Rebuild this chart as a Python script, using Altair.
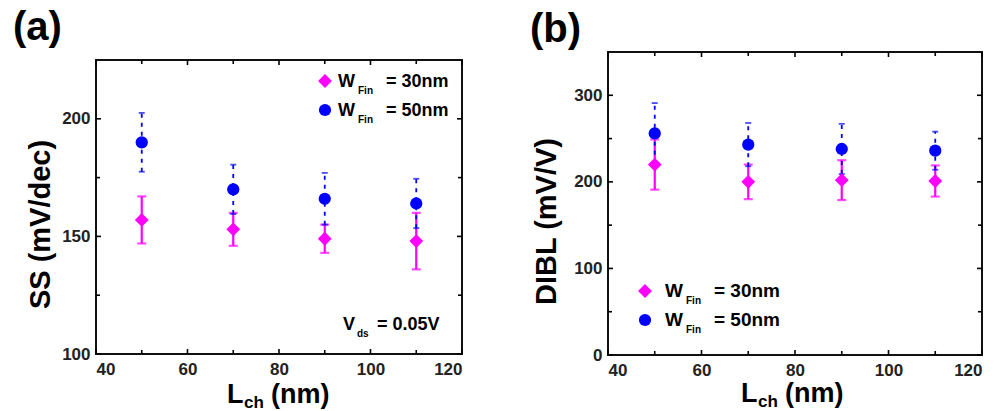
import altair as alt
import pandas as pd

# ---------------- data ----------------
L_ch = [50, 70, 90, 110]

ss_30 = [157, 153, 149, 148]
ss_30_err = [10, 7, 6, 12]
ss_50 = [190, 170, 166, 164]
ss_50_err = [12.5, 10.5, 11, 10.5]

dibl_30 = [220, 200, 202, 201]
dibl_30_err = [29, 20, 23, 18]
dibl_50 = [256, 243, 238, 236]
dibl_50_err = [35, 25, 29, 22]

x_major = [40, 60, 80, 100, 120]
x_minor = [50, 70, 90, 110]
ss_major = [100, 150, 200]
ss_minor = [125, 175]
dibl_major = [0, 100, 200, 300]
dibl_minor = [50, 150, 250]

series_labels = ["= 30nm", "= 50nm"]

FONT = "Liberation Sans"
PINK = "#ff00ff"
BLUE = "#0000ff"
one = pd.DataFrame({"k": [0]})


def txt(s, x, y, size, align="left", baseline="alphabetic"):
    return alt.Chart(one).mark_text(
        text=s, font=FONT, fontSize=size, fontWeight="bold",
        align=align, baseline=baseline, color="black"
    ).encode(x=alt.value(x), y=alt.value(y))


def sym(shape, color, size, x, y):
    return alt.Chart(one).mark_point(
        shape=shape, filled=True, size=size, color=color, opacity=1, strokeWidth=0
    ).encode(x=alt.value(x), y=alt.value(y))


def panel(v30, e30, v50, e50, ydom, ymaj, ymin, ytitle, W, H, top,
          title_x, title_y, label, label_xy, xt_xy, leg, vds=None):
    GH = H + top          # group height; frame spans [top, GH]
    xs = alt.Scale(domain=[40, 120], nice=False, zero=False)
    ys = alt.Scale(domain=ydom, nice=False, zero=False, range=[GH, top])
    xaxis = alt.Axis(values=x_major, format="d")
    yaxis = alt.Axis(values=ymaj, format="d", title=ytitle, titleX=title_x,
                     titleY=title_y + top, titleAngle=270, titleAlign="center",
                     titleBaseline="alphabetic")

    def X(f):
        return alt.X(f"{f}:Q", scale=xs, axis=xaxis, title=None)

    def Y(f):
        return alt.Y(f"{f}:Q", scale=ys, axis=yaxis, title=ytitle)

    d30 = pd.DataFrame({"L": L_ch, "val": v30,
                        "lo": [a - b for a, b in zip(v30, e30)],
                        "hi": [a + b for a, b in zip(v30, e30)]})
    d50 = pd.DataFrame({"L": L_ch, "val": v50,
                        "lo": [a - b for a, b in zip(v50, e50)],
                        "hi": [a + b for a, b in zip(v50, e50)]})

    layers = []
    # frame
    layers.append(alt.Chart(one).mark_rect(fill="transparent", stroke="#111", strokeWidth=2).encode(
        x=alt.value(0), x2=alt.value(W), y=alt.value(top), y2=alt.value(GH)))
    # error bars
    layers.append(alt.Chart(d30).mark_rule(color=PINK, strokeWidth=2.2).encode(
        x=X("L"), y=Y("lo"), y2="hi"))
    layers.append(alt.Chart(d30).transform_fold(["lo", "hi"], as_=["end", "val"]).mark_tick(
        orient="horizontal", color=PINK, size=9, thickness=2.2).encode(x=X("L"), y=Y("val")))
    layers.append(alt.Chart(d50).mark_rule(color=BLUE, strokeWidth=1.8, strokeDash=[4, 5]).encode(
        x=X("L"), y=Y("lo"), y2="hi"))
    layers.append(alt.Chart(d50).transform_fold(["lo", "hi"], as_=["end", "val"]).mark_tick(
        orient="horizontal", color=BLUE, size=6, thickness=1.8).encode(x=X("L"), y=Y("val")))
    # points
    layers.append(alt.Chart(d30).mark_point(shape="diamond", filled=True, size=190,
                                            color=PINK, opacity=1).encode(x=X("L"), y=Y("val")))
    layers.append(alt.Chart(d50).mark_point(shape="circle", filled=True, size=150,
                                            color=BLUE, opacity=1).encode(x=X("L"), y=Y("val")))

    # inward ticks on four sides
    for vals, ln in ((x_major, 5), (x_minor, 4)):
        dd = pd.DataFrame({"L": vals})
        layers.append(alt.Chart(dd).mark_rule(color="black", strokeWidth=1.6).encode(
            x=X("L"), y=alt.value(GH), y2=alt.value(GH - ln)))
        layers.append(alt.Chart(dd).mark_rule(color="black", strokeWidth=1.6).encode(
            x=X("L"), y=alt.value(top), y2=alt.value(top + ln)))
    for vals, ln in ((ymaj, 5), (ymin, 4)):
        dd = pd.DataFrame({"val": vals})
        layers.append(alt.Chart(dd).mark_rule(color="black", strokeWidth=1.6).encode(
            y=Y("val"), x=alt.value(0), x2=alt.value(ln)))
        layers.append(alt.Chart(dd).mark_rule(color="black", strokeWidth=1.6).encode(
            y=Y("val"), x=alt.value(W), x2=alt.value(W - ln)))

    # panel label
    layers.append(txt(label, label_xy[0], label_xy[1] + top, 40))
    # x title with subscript
    bx, by = xt_xy
    by += top
    layers.append(txt("L", bx, by, 27))
    layers.append(txt("ch", bx + 17, by + 5, 17))
    layers.append(txt("(nm)", bx + 44, by, 27))

    # legend
    sx, sy, tx, fs = leg
    sy += top
    layers.append(sym("diamond", PINK, 190, sx, sy))
    layers.append(sym("circle", BLUE, 150, sx, sy + 29))
    for i, lab in enumerate(series_labels):
        yy = sy + 6 + 29 * i
        layers.append(txt("W", tx, yy, fs))
        layers.append(txt("Fin", tx + fs + 2, yy + 7, 10))
        layers.append(txt(lab, tx + fs + 30, yy, fs))

    if vds is not None:
        vx, vy = vds
        vy += top
        layers.append(txt("V", vx, vy, 18))
        layers.append(txt("ds", vx + 14, vy + 7, 10))
        layers.append(txt("= 0.05V", vx + 34, vy, 18))

    return alt.layer(*layers).properties(width=W, height=GH)


pa = panel(ss_30, ss_30_err, ss_50, ss_50_err, [100, 225], ss_major, ss_minor,
           "SS (mV/dec)", 366, 294, 8, -47, 164, "(a)", (-83, -20), (131, 343),
           (229, 21, 242, 18), vds=(247, 270))
pb = panel(dibl_30, dibl_30_err, dibl_50, dibl_50_err, [0, 350], dibl_major, dibl_minor,
           "DIBL (mV/V)", 374, 303, 0, -53, 169, "(b)", (-78, -10), (133, 350),
           (37, 239, 57, 19))

chart = alt.hconcat(pa, pb, spacing=67).configure(
    padding={"left": 13, "top": 8, "right": 5, "bottom": 0},
    background="white",
).configure_view(
    stroke="transparent", strokeWidth=0
).configure_axis(
    ticks=False, domain=False, grid=False,
    labelFont=FONT, labelFontSize=17, labelFontWeight="bold", labelColor="#222",
    titleFont=FONT, titleFontSize=29, titleFontWeight="bold", titleColor="black",
).configure_axisX(labelPadding=7).configure_axisY(labelPadding=6)

chart.save("out.html", embed_options={"renderer": "svg", "actions": False})
